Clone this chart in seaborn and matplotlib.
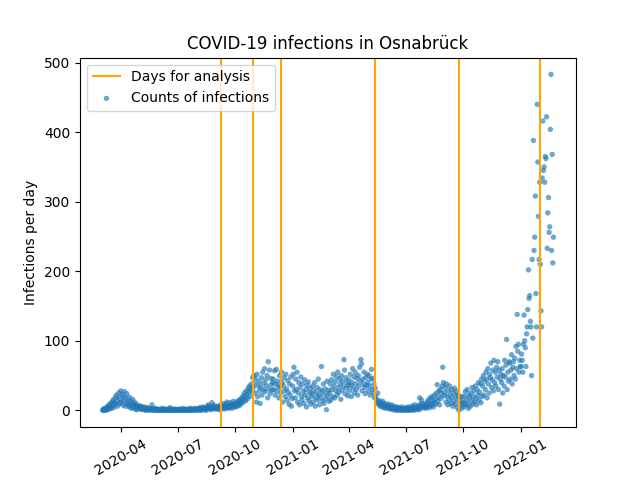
import pandas as pd
import matplotlib
matplotlib.use("Agg")
import matplotlib.pyplot as plt
import matplotlib.dates as mdates
import seaborn as sns

# daily infection counts, one list per month
month_starts = [
    "2020-03-03", "2020-04-01", "2020-05-01", "2020-06-01", "2020-07-01", "2020-08-01",
    "2020-09-01", "2020-10-01", "2020-11-01", "2020-12-01",
    "2021-01-01", "2021-02-01", "2021-03-01", "2021-04-01", "2021-05-01", "2021-06-01",
    "2021-07-01", "2021-08-01", "2021-09-01", "2021-10-01", "2021-11-01", "2021-12-01",
    "2022-01-01", "2022-02-01",
]
mar20 = [0, 2, 0, 1, 3, 0, 2, 5, 1, 4, 8, 2, 6, 10, 3, 12, 7, 15, 4, 11, 18, 9, 22, 13, 6, 19, 25, 10, 16]
apr20 = [28, 12, 23, 8, 20, 15, 27, 6, 18, 11, 24, 9, 14, 5, 19, 7, 13, 3, 10, 16, 4, 8, 12, 2, 6, 9, 1, 5, 3, 7]
may20 = [3, 5, 2, 6, 1, 4, 3, 2, 5, 1, 0, 3, 2, 4, 1, 2, 0, 3, 1, 2, 8, 1, 0, 2, 1, 3, 0, 1, 2, 0, 1]
jun20 = [1, 0, 2, 0, 1, 0, 3, 1, 0, 2, 1, 0, 0, 1, 2, 0, 1, 0, 4, 1, 0, 2, 0, 1, 0, 0, 2, 1, 0, 1]
jul20 = [0, 1, 0, 2, 0, 1, 1, 0, 3, 1, 0, 0, 2, 1, 0, 1, 0, 2, 1, 0, 3, 1, 0, 2, 1, 0, 1, 3, 0, 2, 1]
aug20 = [2, 1, 0, 3, 2, 4, 1, 0, 2, 5, 3, 1, 2, 4, 2, 0, 3, 6, 8, 4, 2, 5, 3, 1, 11, 6, 4, 3, 7, 2, 4]
sep20 = [3, 5, 2, 6, 4, 1, 2, 8, 4, 7, 3, 5, 10, 2, 6, 4, 9, 12, 5, 3, 7, 4, 11, 6, 8, 3, 9, 13, 5, 7]
oct20 = [8, 5, 12, 6, 10, 14, 9, 7, 15, 11, 18, 10, 16, 21, 13, 25, 19, 14, 28, 23, 17, 32, 26, 35, 20, 30, 38, 27, 47, 33, 50]
nov20 = [38, 25, 45, 12, 52, 20, 35, 41, 28, 10, 33, 47, 22, 55, 39, 30, 60, 27, 44, 36, 50, 18, 70, 31, 58, 24, 46, 37, 29, 40]
dec20 = [45, 30, 57, 22, 38, 59, 28, 42, 35, 18, 50, 33, 25, 55, 40, 12, 36, 47, 28, 20, 52, 31, 15, 43, 26, 9, 38, 22, 48, 6, 17]
jan21 = [35, 52, 62, 28, 18, 45, 30, 55, 12, 25, 40, 8, 33, 48, 20, 15, 38, 27, 10, 44, 22, 30, 5, 36, 18, 41, 14, 26, 32, 9, 24]
feb21 = [20, 35, 12, 28, 40, 6, 18, 25, 33, 15, 45, 22, 8, 30, 19, 63, 27, 14, 38, 10, 24, 31, 17, 1, 42, 21, 29, 13]
mar21 = [25, 38, 15, 44, 30, 20, 52, 35, 18, 41, 28, 48, 22, 55, 33, 26, 45, 38, 16, 50, 29, 42, 35, 73, 58, 24, 47, 32, 40, 21, 36]
apr21 = [44, 28, 52, 36, 20, 40, 60, 32, 48, 25, 55, 38, 30, 46, 22, 50, 35, 62, 42, 73, 67, 28, 45, 38, 55, 33, 24, 47, 36, 52]
may21 = [40, 28, 50, 35, 22, 45, 59, 30, 46, 25, 38, 18, 32, 20, 15, 12, 25, 10, 8, 14, 6, 11, 9, 5, 13, 7, 4, 10, 6, 3, 8]
jun21 = [7, 4, 9, 3, 6, 2, 5, 8, 3, 1, 4, 6, 2, 3, 0, 5, 1, 2, 4, 0, 3, 1, 2, 5, 0, 1, 3, 2, 0, 4]
jul21 = [1, 3, 0, 2, 5, 1, 0, 4, 2, 1, 6, 3, 0, 2, 8, 4, 1, 3, 5, 2, 7, 1, 18, 9, 3, 15, 6, 10, 4, 8, 5]
aug21 = [6, 3, 9, 12, 5, 15, 8, 4, 18, 10, 7, 20, 14, 5, 11, 22, 16, 9, 25, 37, 13, 19, 28, 8, 30, 17, 24, 35, 62, 40, 21]
sep21 = [26, 33, 12, 38, 20, 8, 28, 15, 35, 22, 10, 30, 18, 6, 25, 13, 32, 9, 20, 27, 4, 15, 22, 0, 18, 8, 14, 3, 20, 10]
oct21 = [12, 5, 20, 27, 8, 15, 30, 10, 3, 22, 18, 6, 25, 14, 33, 9, 20, 28, 12, 35, 17, 8, 30, 22, 40, 15, 26, 38, 11, 45, 20]
nov21 = [35, 50, 22, 42, 30, 55, 45, 18, 60, 38, 25, 52, 47, 68, 33, 44, 58, 28, 72, 40, 55, 35, 62, 48, 70, 30, 58, 9, 45, 52]
dec21 = [40, 60, 25, 50, 35, 72, 48, 65, 102, 30, 55, 42, 70, 68, 45, 58, 80, 38, 62, 70, 50, 75, 45, 92, 60, 138, 85, 95, 55, 72, 63]
jan22 = [63, 81, 72, 55, 95, 137, 100, 90, 63, 110, 120, 145, 202, 161, 165, 128, 120, 50, 217, 104, 388, 230, 249, 308, 168, 120, 440, 357, 279, 217, 328]
feb22 = [210, 143, 120, 334, 416, 345, 350, 328, 365, 362, 422, 233, 284, 306, 256, 264, 404, 483, 230, 368, 212, 249]

months = [mar20, apr20, may20, jun20, jul20, aug20, sep20, oct20, nov20, dec20,
          jan21, feb21, mar21, apr21, may21, jun21, jul21, aug21, sep21, oct21, nov21, dec21,
          jan22, feb22]

analysis_days = ["2020-09-08", "2020-10-30", "2020-12-14", "2021-05-13", "2021-09-24", "2022-01-31"]

frames = []
for start, vals in zip(month_starts, months):
    frames.append(pd.DataFrame({"date": pd.date_range(start, periods=len(vals), freq="D"),
                                "cases": vals}))
df = pd.concat(frames, ignore_index=True)

fig, ax = plt.subplots(figsize=(6.4, 4.8), dpi=100)

for i, d in enumerate(analysis_days):
    ax.axvline(pd.Timestamp(d), color="orange", lw=1.5,
               label="Days for analysis" if i == 0 else None)

sns.scatterplot(data=df, x="date", y="cases", ax=ax, s=15, alpha=0.65,
                color="tab:blue", edgecolor="none", label="Counts of infections")

ax.set_title("COVID-19 infections in Osnabrück")
ax.set_ylabel("Infections per day")
ax.set_xlabel("")
ax.xaxis.set_major_locator(mdates.MonthLocator(bymonth=[1, 4, 7, 10]))
ax.xaxis.set_major_formatter(mdates.DateFormatter("%Y-%m"))
plt.setp(ax.get_xticklabels(), rotation=30, ha="center")
ax.legend(loc="upper left")

plt.savefig("out.png", dpi=100)
